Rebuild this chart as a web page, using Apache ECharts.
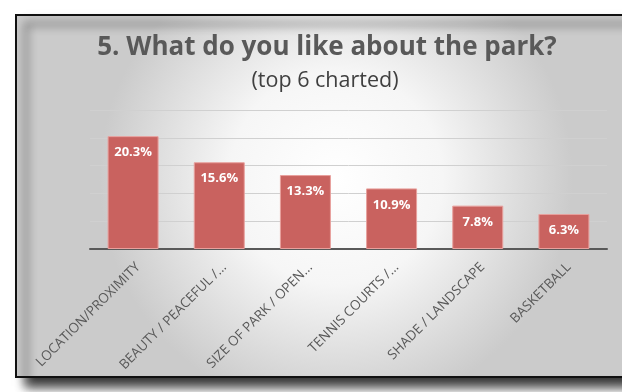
<!DOCTYPE html>
<html><head><meta charset="utf-8">
<script src="https://cdn.jsdelivr.net/npm/echarts@6/dist/echarts.min.js"></script>
<style>html,body{margin:0;padding:0;background:#fff;}#c{width:622px;height:392px;}</style>
</head><body><div id="c"></div>
<script>
const categories = ['LOCATION/PROXIMITY','BEAUTY / PEACEFUL /...','SIZE OF PARK / OPEN...','TENNIS COURTS /...','SHADE / LANDSCAPE','BASKETBALL'];
const values = [20.3, 15.6, 13.3, 10.9, 7.8, 6.3];
const titleText = '5. What do you like about the park?';
const subtitleText = '(top 6 charted)';

const chart = echarts.init(document.getElementById('c'), null, {renderer:'canvas'});
chart.setOption({
  animation:false,
  backgroundColor:'#fff',
  graphic:[{
    type:'rect', z:-10, silent:true,
    shape:{x:16,y:15,width:640,height:362},
    style:{
      fill:{type:'radial',x:0.5,y:0.45,r:0.65,colorStops:[{offset:0,color:'#ffffff'},{offset:0.45,color:'#f6f6f6'},{offset:1,color:'#cbcbcb'}]},
      stroke:'#111',lineWidth:2,
      shadowBlur:10,shadowColor:'rgba(0,0,0,0.8)',shadowOffsetX:10,shadowOffsetY:9
    }
  }],
  title:[{
    text:titleText,left:322,textAlign:'center',top:30,
    textStyle:{fontFamily:'Open Sans',fontWeight:'bold',fontSize:26,color:'#595959'}
  },{
    text:subtitleText,left:320,textAlign:'center',top:65,
    textStyle:{fontFamily:'Open Sans',fontWeight:'normal',fontSize:21.5,color:'#404040'}
  }],
  grid:{left:90,right:15,top:110,bottom:143,containLabel:false},
  xAxis:{
    type:'category',data:categories,
    axisLine:{lineStyle:{color:'#595959',width:2}},
    axisTick:{show:false},
    axisLabel:{rotate:45,interval:0,fontFamily:'Open Sans',fontSize:13.5,color:'#595959',margin:11,verticalAlign:'top'}
  },
  yAxis:{
    type:'value',min:0,max:25,interval:5,
    axisLabel:{show:false},axisLine:{show:false},axisTick:{show:false},
    splitLine:{lineStyle:{color:'#d0d0d0',width:1}}
  },
  series:[{
    type:'bar',data:values,barWidth:51,
    itemStyle:{color:'#c9625f',borderColor:'#e8a09d',borderWidth:1},
    label:{show:true,position:'insideTop',distance:10,formatter:p=>p.value.toFixed(1)+'%',
      fontFamily:'Open Sans',fontWeight:'bold',fontSize:13,color:'#ffffff'}
  }]
});
</script></body></html>
